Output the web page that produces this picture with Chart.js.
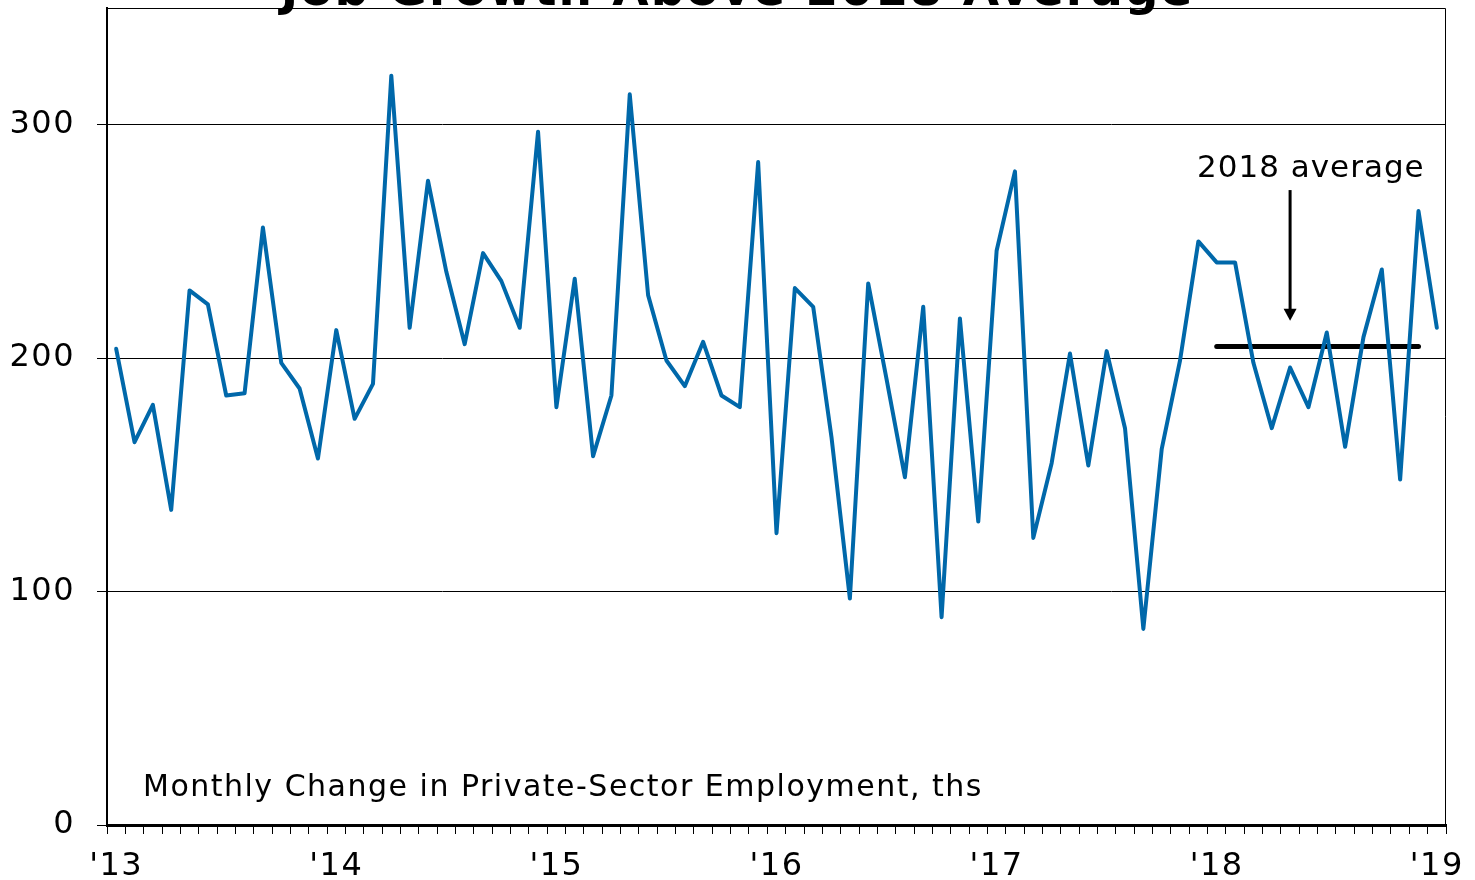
<!DOCTYPE html>
<html>
<head>
<meta charset="utf-8">
<script src="https://cdn.jsdelivr.net/npm/chart.js@4.4.1/dist/chart.umd.min.js"></script>
<style>
  html, body { margin: 0; padding: 0; background: #fff; }
  #wrap { width: 1475px; height: 880px; }
</style>
</head>
<body>
<div id="wrap"><canvas id="chart"></canvas></div>
<script>
// Monthly change in private-sector employment, thousands (Jan 2013 - Jan 2019)
const years = ['2013', '2014', '2015', '2016', '2017', '2018', '2019'];
const monthNames = ['Jan', 'Feb', 'Mar', 'Apr', 'May', 'Jun', 'Jul', 'Aug', 'Sep', 'Oct', 'Nov', 'Dec'];

const jobs2013 = [204, 164, 180, 135, 229, 223, 184, 185, 256, 198, 187, 157];
const jobs2014 = [212, 174, 189, 321, 213, 276, 237, 206, 245, 233, 213, 297];
const jobs2015 = [179, 234, 158, 184, 313, 227, 199, 188, 207, 184, 179, 284];
const jobs2016 = [125, 230, 222, 166, 97, 232, 191, 149, 222, 89, 217, 130];
const jobs2017 = [246, 280, 123, 155, 202, 154, 203, 170, 84, 161, 199, 250];
const jobs2018 = [241, 241, 198, 170, 196, 179, 211, 162, 209, 238, 148, 263];
const jobs2019 = [213];

const avg2018 = 205;            // 2018 average, ths
const avgFrom = 60, avgTo = 71; // Jan 2018 .. Dec 2018
const arrowIndex = 64;          // arrow sits over May 2018
const arrowTop = 272, arrowTip = 216;

const yTicks = [0, 100, 200, 300];

const titleText = 'Job Growth Above 2018 Average';
const noteText = 'Monthly Change in Private-Sector Employment, ths';
const avgLabel = '2018 average';

const labels = [];
years.forEach((yr) => monthNames.forEach((m) => labels.push(m + ' ' + yr)));
labels.length = 73;

const jobs = [].concat(jobs2013, jobs2014, jobs2015, jobs2016, jobs2017, jobs2018, jobs2019);
const avgLine = labels.map((l, i) => (i >= avgFrom && i <= avgTo ? avg2018 : null));

const FONT = '"DejaVu Sans", Verdana, sans-serif';

const decorations = {
  id: 'decorations',
  beforeDraw(chart) {
    chart.ctx.letterSpacing = '1.5px';
  },
  beforeDatasetsDraw(chart) {
    const { ctx, chartArea: a } = chart;
    ctx.save();
    ctx.strokeStyle = '#000';
    ctx.lineWidth = 1;
    ctx.beginPath();
    ctx.moveTo(a.left, a.top + 0.5);
    ctx.lineTo(a.right - 0.5, a.top + 0.5);
    ctx.lineTo(a.right - 0.5, a.bottom);
    ctx.stroke();
    ctx.restore();
  },
  afterDraw(chart) {
    const { ctx, scales: { x, y } } = chart;
    ctx.save();
    ctx.fillStyle = '#000';

    // title, mostly cut off at the top edge
    ctx.letterSpacing = '2px';
    ctx.font = 'bold 47px ' + FONT;
    ctx.textAlign = 'center';
    ctx.textBaseline = 'alphabetic';
    ctx.fillText(titleText, chart.width / 2, 5);

    // note inside the plot
    ctx.letterSpacing = '1.5px';
    ctx.font = '30px ' + FONT;
    ctx.textAlign = 'left';
    ctx.fillText(noteText, 143, 796);

    // 2018 average label + arrow
    const ax = x.getPixelForValue(arrowIndex);
    const yTop = y.getPixelForValue(arrowTop);
    const yTip = y.getPixelForValue(arrowTip);
    ctx.letterSpacing = '1px';
    ctx.font = '31px ' + FONT;
    ctx.textAlign = 'left';
    ctx.fillText(avgLabel, 1197, 177);

    ctx.strokeStyle = '#000';
    ctx.lineWidth = 3;
    ctx.beginPath();
    ctx.moveTo(ax, yTop);
    ctx.lineTo(ax, yTip - 10);
    ctx.stroke();
    ctx.beginPath();
    ctx.moveTo(ax - 6.5, yTip - 12);
    ctx.lineTo(ax + 6.5, yTip - 12);
    ctx.lineTo(ax, yTip);
    ctx.closePath();
    ctx.fill();
    ctx.restore();
  }
};

new Chart(document.getElementById('chart'), {
  type: 'line',
  data: {
    labels,
    datasets: [
      {
        label: 'Private-sector employment',
        data: jobs,
        borderColor: '#0068AA',
        borderWidth: 4,
        pointRadius: 0,
        tension: 0,
        borderJoinStyle: 'round',
        borderCapStyle: 'round'
      },
      {
        label: '2018 average',
        data: avgLine,
        borderColor: '#000',
        borderWidth: 5,
        pointRadius: 0,
        borderCapStyle: 'round',
        spanGaps: false
      }
    ]
  },
  options: {
    responsive: true,
    maintainAspectRatio: false,
    animation: false,
    layout: { autoPadding: false, padding: { top: 8, right: 29, left: 0, bottom: 0 } },
    plugins: {
      legend: { display: false },
      tooltip: { enabled: false }
    },
    scales: {
      x: {
        type: 'category',
        offset: true,
        grid: {
          offset: true,
          drawOnChartArea: false,
          drawTicks: true,
          tickLength: 9,
          color: '#000',
          lineWidth: 1
        },
        border: { display: true, color: '#000', width: 3 },
        ticks: {
          autoSkip: false,
          maxRotation: 0,
          minRotation: 0,
          padding: 13,
          color: '#000',
          font: { family: FONT, size: 32 },
          callback: function (value, index) {
            return index % 12 === 0 ? "'" + labels[index].slice(-2) : '';
          }
        },
        afterFit: (s) => {
          s.height = 55;
          s.paddingLeft = 0;
          s.paddingRight = 0;
        }
      },
      y: {
        min: 0,
        max: 350,
        afterBuildTicks: (axis) => {
          axis.ticks = yTicks.map((v) => ({ value: v }));
        },
        grid: {
          color: '#000',
          lineWidth: 1,
          drawTicks: true,
          tickLength: 10
        },
        border: { display: true, color: '#000', width: 2 },
        ticks: {
          padding: 22,
          color: '#000',
          font: { family: FONT, size: 32 }
        },
        afterFit: (s) => {
          s.width = 107;
          s.paddingTop = 0;
          s.paddingBottom = 0;
        }
      }
    }
  },
  plugins: [decorations]
});
</script>
</body>
</html>
